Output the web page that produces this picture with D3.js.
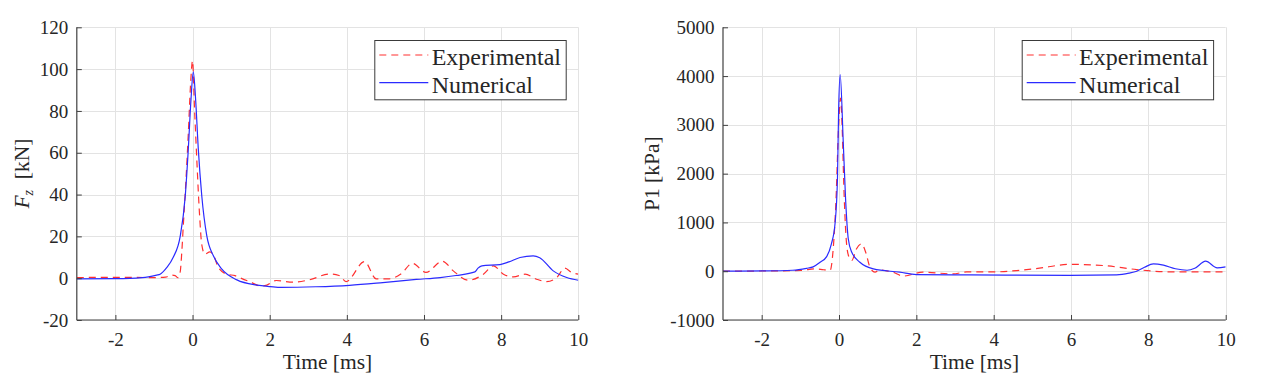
<!DOCTYPE html>
<html><head><meta charset="utf-8">
<script src="https://cdn.jsdelivr.net/npm/d3@7"></script>
<style>
body{margin:0;background:#fff;}
svg{display:block;}
text{font-family:"Liberation Serif","Times New Roman",serif;fill:#262626;}
</style>
</head><body><svg id="c" width="1268" height="380"></svg>
<script>
// ---------- data ----------
const timeTicks = [-2, 0, 2, 4, 6, 8, 10];
const fzTicks = [-20, 0, 20, 40, 60, 80, 100, 120];
const p1Ticks = [-1000, 0, 1000, 2000, 3000, 4000, 5000];
const seriesNames = ["Experimental", "Numerical"];

const fzExpTime = [-3,-2,-1,-0.7,-0.55,-0.45,-0.38,-0.32,-0.28,-0.24,-0.17,-0.11,-0.05,0,0.05,0.11,0.18,0.24,0.32,0.45,0.55,0.67,0.89,1.1,1.28,1.5,1.76,1.87,2.17,2.6,3.03,3.55,3.8,3.98,4.46,4.76,5.1,5.4,5.7,6.05,6.48,6.76,7.15,7.54,7.8,8.06,8.32,8.62,8.92,9.18,9.44,9.65,9.83,10];
const fzExp = [0.3,0.4,0.3,0.5,1.5,1.2,0.2,3,12,25,47,69,93,104,82,57,31,16,11.5,12.6,10.7,5.1,1.9,1.2,-0.2,-1.8,-3.7,-3.6,-1.1,-1.9,-0.8,2,1.3,-1.6,7.9,-0.3,-0.3,2,7.1,2.8,8.1,3.5,-1,1.9,5.9,1.9,0.6,1.9,-0.5,-1.6,0.3,4.8,2.7,1.9];

const fzNumTime = [-3,-2,-1.3,-0.93,-0.84,-0.67,-0.5,-0.32,-0.19,-0.11,-0.04,0.02,0.08,0.15,0.24,0.37,0.54,0.76,1.15,1.67,2.02,2.3,3.2,4.07,4.93,5.8,6.42,6.83,7.32,7.4,7.5,7.97,8.2,8.49,8.83,9.0,9.35,9.7,10];
const fzNum = [-0.3,-0.2,0.3,1.5,1.9,5,10,20,39,61.6,85.5,98.7,85.5,61.6,39.3,20.2,10.7,4.3,-0.8,-3.3,-4.0,-4.4,-4.1,-3.4,-2.1,-0.6,0.3,1.3,3.0,4.8,5.9,6.5,7.8,9.9,10.7,9.8,3.5,0.3,-1];

const p1ExpTime = [-3,-2,-1,-0.6,-0.4,-0.23,-0.15,-0.08,-0.01,0.04,0.08,0.13,0.2,0.26,0.33,0.45,0.58,0.69,0.8,0.93,1.06,1.14,1.4,1.66,2.17,2.95,3.3,4.0,4.68,5.1,5.97,6.84,7.7,8.56,9.43,10];
const p1Exp = [0,5,15,50,30,20,457,1420,2980,3550,2980,1620,525,287,220,457,560,390,82,-20,33,20,-20,-100,-20,-55,-14,-14,20,54,140,116,34,-14,-14,-14];

const p1NumTime = [-3,-2,-1.2,-0.84,-0.67,-0.49,-0.32,-0.2,-0.1,-0.04,-0.01,0.03,0.11,0.17,0.24,0.33,0.54,0.89,1.57,2.0,3.38,5.97,7.18,7.5,7.7,7.9,8.13,8.39,8.7,9.0,9.2,9.48,9.78,10];
const p1Num = [0,5,20,60,90,184,300,550,1000,1900,3300,4030,2640,1480,660,390,184,47,-20,-68,-75,-85,-75,-40,0,80,150,124,50,20,60,205,68,89];

// ---------- drawing ----------
const svg = d3.select("#c");
const colors = ["#ff3030", "#2b2bff"];
const dashes = ["7,5", null];
const serif = '"Liberation Serif","Times New Roman",serif';

const panels = [
  {x0: 76.8, x1: 578.3, y0: 27.3, y1: 320, yDomain: [-20, 120], yTicks: fzTicks,
   series: [[fzExpTime, fzExp], [fzNumTime, fzNum]], label: "fz", labelX: 29,
   legend: {x: 374.3, y: 40}},
  {x0: 723, x1: 1225.7, y0: 27.3, y1: 320, yDomain: [-1000, 5000], yTicks: p1Ticks,
   series: [[p1ExpTime, p1Exp], [p1NumTime, p1Num]], label: "p1", labelX: 659,
   legend: {x: 1021.7, y: 40}}
];

panels.forEach((p, pi) => {
  const x = d3.scaleLinear().domain([-3, 10]).range([p.x0, p.x1]);
  const y = d3.scaleLinear().domain(p.yDomain).range([p.y1, p.y0]);
  const g = svg.append("g");

  // grid
  g.append("g").selectAll("line").data(timeTicks).join("line")
    .attr("x1", d => Math.round(x(d)) + 0.5).attr("x2", d => Math.round(x(d)) + 0.5)
    .attr("y1", p.y0).attr("y2", p.y1).attr("stroke", "#e3e3e3").attr("stroke-width", 1);
  g.append("g").selectAll("line").data(p.yTicks).join("line")
    .attr("y1", d => Math.round(y(d)) + 0.5).attr("y2", d => Math.round(y(d)) + 0.5)
    .attr("x1", p.x0).attr("x2", p.x1).attr("stroke", "#e3e3e3").attr("stroke-width", 1);

  // lines
  const clipId = "clip" + pi;
  svg.append("clipPath").attr("id", clipId).append("rect")
    .attr("x", p.x0).attr("y", p.y0).attr("width", p.x1 - p.x0).attr("height", p.y1 - p.y0);
  const line = d3.line().x(d => x(d[0])).y(d => y(d[1])).curve(d3.curveMonotoneX);
  p.series.forEach((s, si) => {
    const pts = s[0].map((t, i) => [t, s[1][i]]);
    g.append("path").datum(pts).attr("d", line)
      .attr("clip-path", `url(#${clipId})`)
      .attr("fill", "none").attr("stroke", colors[si]).attr("stroke-width", 1.2)
      .attr("stroke-dasharray", dashes[si]);
  });

  // axes
  const xAxis = d3.axisBottom(x).tickValues(timeTicks).tickSize(-5).tickPadding(13)
    .tickFormat(d => String(d));
  const gx = g.append("g").attr("transform", `translate(0,${p.y1})`).call(xAxis);
  const yAxis = d3.axisLeft(y).tickValues(p.yTicks).tickSize(-5).tickPadding(8.5)
    .tickFormat(d => String(d));
  const gy = g.append("g").attr("transform", `translate(${p.x0},0)`).call(yAxis);
  [gx, gy].forEach(a => {
    a.attr("font-family", serif).attr("font-size", 19);
    a.select(".domain").attr("stroke", "#404040").attr("stroke-width", 1.2);
    a.selectAll(".tick line").attr("stroke", "#404040");
    a.selectAll("text").style("font-size", "19px").style("fill", "#262626")
      .style("font-family", serif);
  });
  gx.select(".domain").attr("d", `M${p.x0},0H${p.x1}`);
  gy.select(".domain").attr("d", `M0,${p.y1}V${p.y0}`);

  // x label
  g.append("text").attr("x", (p.x0 + p.x1) / 2).attr("y", 369)
    .attr("text-anchor", "middle").attr("font-size", "21.5px").text("Time [ms]");

  // y label
  const cy = (p.y0 + p.y1) / 2;
  const yl = g.append("text").attr("transform", `translate(${p.labelX},${cy}) rotate(-90)`)
    .attr("text-anchor", "middle").attr("font-size", "21.5px");
  if (p.label === "fz") {
    yl.append("tspan").attr("font-style", "italic").text("F");
    yl.append("tspan").attr("font-style", "italic").attr("font-size", "14px").attr("dy", 4).text("z");
    yl.append("tspan").attr("dy", -4).text("\u00a0\u00a0[kN]");
  } else {
    yl.text("P1 [kPa]");
  }

  // legend
  const L = p.legend;
  const lg = g.append("g").attr("transform", `translate(${L.x},${L.y})`);
  lg.append("rect").attr("x", 0.5).attr("y", 0.5).attr("width", 191.4).attr("height", 59.3)
    .attr("fill", "#fff").attr("stroke", "#3a3a3a").attr("stroke-width", 1);
  seriesNames.forEach((name, i) => {
    const cyL = 15 + i * 27.7;
    lg.append("line").attr("x1", 5).attr("x2", 54).attr("y1", cyL).attr("y2", cyL)
      .attr("stroke", colors[i]).attr("stroke-width", 1.2).attr("stroke-dasharray", dashes[i]);
    lg.append("text").attr("x", 57.4).attr("y", cyL + 10).attr("font-size", "24px").text(name);
  });
});
</script>
</body></html>
